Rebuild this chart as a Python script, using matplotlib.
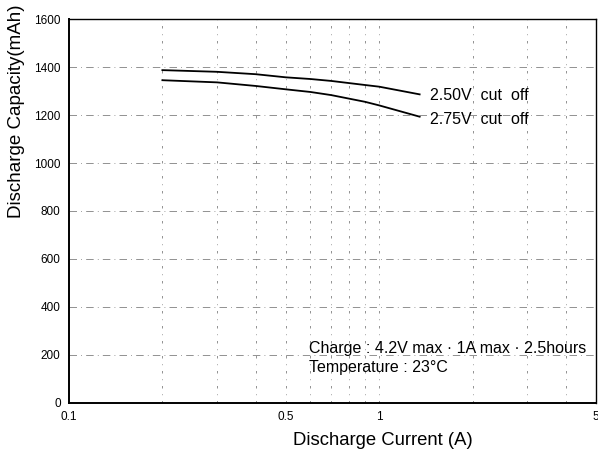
import numpy as np
import matplotlib
matplotlib.use("Agg")
import matplotlib.pyplot as plt

plt.rcParams['font.family'] = ['Liberation Sans', 'DejaVu Sans']

# discharge current (A) and capacity (mAh)
current = [0.2, 0.3, 0.4, 0.5, 0.6, 0.7, 0.9, 1.0, 1.35]
cap_250 = [1387, 1380, 1370, 1357, 1350, 1342, 1325, 1318, 1286]
cap_275 = [1345, 1336, 1321, 1307, 1296, 1283, 1255, 1240, 1193]

x_ticks = [0.1, 0.5, 1, 5]
x_ticklabels = ['0.1', '0.5', '1', '5']
y_ticks = [0, 200, 400, 600, 800, 1000, 1200, 1400, 1600]
v_grid = [0.2, 0.3, 0.4, 0.5, 0.6, 0.7, 0.8, 0.9, 1, 2, 3, 4]
h_grid = [200, 400, 600, 800, 1000, 1200, 1400]

fig = plt.figure(figsize=(5.98, 4.57), dpi=100)
ax = fig.add_axes([0.1154, 0.1182, 0.8813, 0.8402])

ax.set_xscale('log')
ax.set_xlim(0.1, 5)
ax.set_ylim(0, 1600)

# broken, scanned-looking grid
for xv in v_grid:
    ax.axvline(xv, color='0.5', lw=0.6, ls=(0, (3, 7, 1, 7)), zorder=1)
for yv in h_grid:
    ax.axhline(yv, color='0.5', lw=0.6, ls=(0, (9, 5, 1, 5)), zorder=1)

ax.plot(current, cap_250, color='black', lw=1.3, zorder=3)
ax.plot(current, cap_275, color='black', lw=1.3, zorder=3)

ax.text(1.46, 1283, '2.50V  cut  off', fontsize=11.5, va='center', ha='left')
ax.text(1.46, 1183, '2.75V  cut  off', fontsize=11.5, va='center', ha='left')
ax.text(0.592, 225, 'Charge : 4.2V max · 1A max · 2.5hours', fontsize=11.5,
        va='center', ha='left')
ax.text(0.592, 146, 'Temperature : 23°C', fontsize=11.5, va='center', ha='left')

ax.set_xticks(x_ticks)
ax.set_xticklabels(x_ticklabels)
ax.xaxis.set_minor_locator(matplotlib.ticker.NullLocator())
ax.set_yticks(y_ticks)
ax.tick_params(axis='both', length=0, labelsize=8.5, pad=6)

ax.set_xlabel('Discharge Current (A)', fontsize=13.3, va='center')
ax.xaxis.set_label_coords(0.596, -0.099)
ax.set_ylabel('Discharge Capacity(mAh)', fontsize=13.5, va='center', ha='center')
ax.yaxis.set_label_coords(-0.099, 0.76)

for side in ['left', 'bottom']:
    ax.spines[side].set_linewidth(1.4)
for side in ['top', 'right']:
    ax.spines[side].set_linewidth(1.0)

fig.savefig('out.png', dpi=100)
